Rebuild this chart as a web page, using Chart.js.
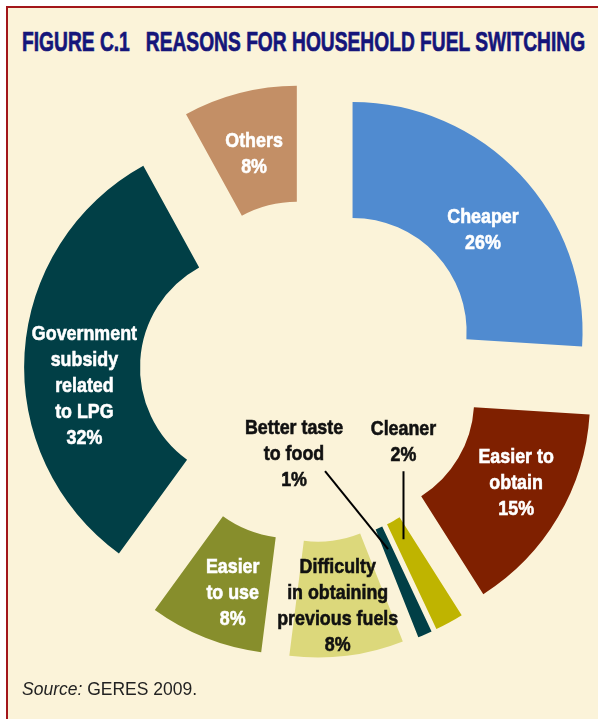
<!DOCTYPE html>
<html>
<head>
<meta charset="utf-8">
<script src="https://cdn.jsdelivr.net/npm/chart.js@4.4.1/dist/chart.umd.min.js"></script>
<style>
  html, body { margin: 0; padding: 0; background: #ffffff; overflow: hidden; }
  #panel {
    position: absolute; left: 6px; top: 6px; width: 592px; height: 713px;
    background: #fbf3d9;
    border-top: 2px solid #a3161a; border-left: 2px solid #a3161a;
    box-sizing: border-box;
  }
  #title {
    position: absolute; left: 22px; top: 26px; margin: 0;
    font-family: "Liberation Sans", Arial, sans-serif;
    font-weight: bold; font-size: 27.5px; color: #15157a; white-space: pre;
    -webkit-text-stroke: 0.7px #15157a;
    transform-origin: 0 0;
  }
  #source {
    position: absolute; left: 22px; top: 679px;
    font-family: "Liberation Sans", Arial, sans-serif; font-size: 17.5px; color: #222;
  }
  #chart { position: absolute; left: 0; top: 0; }
</style>
</head>
<body>
<div id="panel"></div>
<div id="title">FIGURE C.1   REASONS FOR HOUSEHOLD FUEL SWITCHING</div>
<canvas id="chart" width="598" height="719"></canvas>
<div id="source"><i>Source:</i> GERES 2009.</div>
<script>
const categories = ['Cheaper', 'Easier to obtain', 'Cleaner', 'Better taste to food',
  'Difficulty in obtaining previous fuels', 'Easier to use',
  'Government subsidy related to LPG', 'Others'];
const shares = [26, 15, 2, 1, 8, 8, 32, 8];
const labelLines = [
  ['Cheaper'], ['Easier to', 'obtain'], ['Cleaner'], ['Better taste', 'to food'],
  ['Difficulty', 'in obtaining', 'previous fuels'], ['Easier', 'to use'],
  ['Government', 'subsidy', 'related', 'to LPG'], ['Others']
];
const sliceColors = ['#508bd0', '#7f2000', '#bfb400', '#013f46',
  '#dcd87b', '#878e2c', '#013f46', '#c38f66'];
const textColors = ['#fff', '#fff', '#111', '#111', '#111', '#fff', '#fff', '#fff'];

// label nudges (inside) or leader settings (outside)
const labelNudge = [[5, 14], [8, -6], null, null, [-2, 6], [6, 8], [2, 28], [0, 3]];
const leaders = {
  2: { r: 135, line: [0, -68], text: [0, -104] },
  3: { r: 137, line: [-63, -78], text: [-94, -115] }
};

const EXPLODE = 57;
const FONT = 'bold 21px "Liberation Sans", Arial, sans-serif';
const SQUEEZE = 0.85;   // fake a condensed face
const LINE_H = 26;
const CAP_H = 15;

// squeeze the title to the width of the original heading
const titleEl = document.getElementById('title');
titleEl.style.transform = 'scaleX(' + (563 / titleEl.offsetWidth) + ')';

const explodePlugin = {
  id: 'explode',
  afterDatasetUpdate(chart) {
    chart.getDatasetMeta(0).data.forEach(arc => {
      const mid = (arc.startAngle + arc.endAngle) / 2;
      arc.x += Math.cos(mid) * EXPLODE;
      arc.y += Math.sin(mid) * EXPLODE;
    });
  }
};

const labelPlugin = {
  id: 'sliceLabels',
  afterDatasetsDraw(chart) {
    const ctx = chart.ctx;
    const arcs = chart.getDatasetMeta(0).data;
    ctx.save();
    ctx.font = FONT;
    ctx.textAlign = 'center';
    ctx.textBaseline = 'alphabetic';
    arcs.forEach((arc, i) => {
      const lines = labelLines[i].concat([shares[i] + '%']);
      const mid = (arc.startAngle + arc.endAngle) / 2;
      let x, firstBase;
      if (leaders[i]) {
        const L = leaders[i];
        const ax = arc.x + Math.cos(mid) * L.r;
        const ay = arc.y + Math.sin(mid) * L.r;
        ctx.strokeStyle = '#000';
        ctx.lineWidth = 2;
        ctx.beginPath();
        ctx.moveTo(ax + L.line[0], ay + L.line[1]);
        ctx.lineTo(ax, ay);
        ctx.stroke();
        x = ax + L.text[0];
        firstBase = ay + L.text[1];
      } else {
        const r = (arc.innerRadius + arc.outerRadius) / 2;
        const cx = arc.x + Math.cos(mid) * r + labelNudge[i][0];
        const cy = arc.y + Math.sin(mid) * r + labelNudge[i][1];
        const h = (lines.length - 1) * LINE_H + CAP_H;
        x = cx;
        firstBase = cy - h / 2 + CAP_H;
      }
      ctx.fillStyle = textColors[i];
      ctx.strokeStyle = textColors[i];
      ctx.lineWidth = 0.6;
      lines.forEach((t, k) => {
        ctx.save();
        ctx.translate(x, firstBase + k * LINE_H);
        ctx.scale(SQUEEZE, 1);
        ctx.fillText(t, 0, 0);
        ctx.strokeText(t, 0, 0);
        ctx.restore();
      });
    });
    ctx.restore();
  }
};

new Chart(document.getElementById('chart'), {
  type: 'doughnut',
  data: {
    labels: categories,
    datasets: [{
      data: shares,
      backgroundColor: sliceColors,
      borderWidth: 0,
      hoverOffset: 0
    }]
  },
  options: {
    responsive: false,
    animation: false,
    events: [],
    radius: 230,
    cutout: '49.6%',
    layout: { padding: { left: 24, right: 0, top: 80, bottom: 57 } },
    plugins: { legend: { display: false }, tooltip: { enabled: false } }
  },
  plugins: [explodePlugin, labelPlugin]
});
</script>
</body>
</html>
